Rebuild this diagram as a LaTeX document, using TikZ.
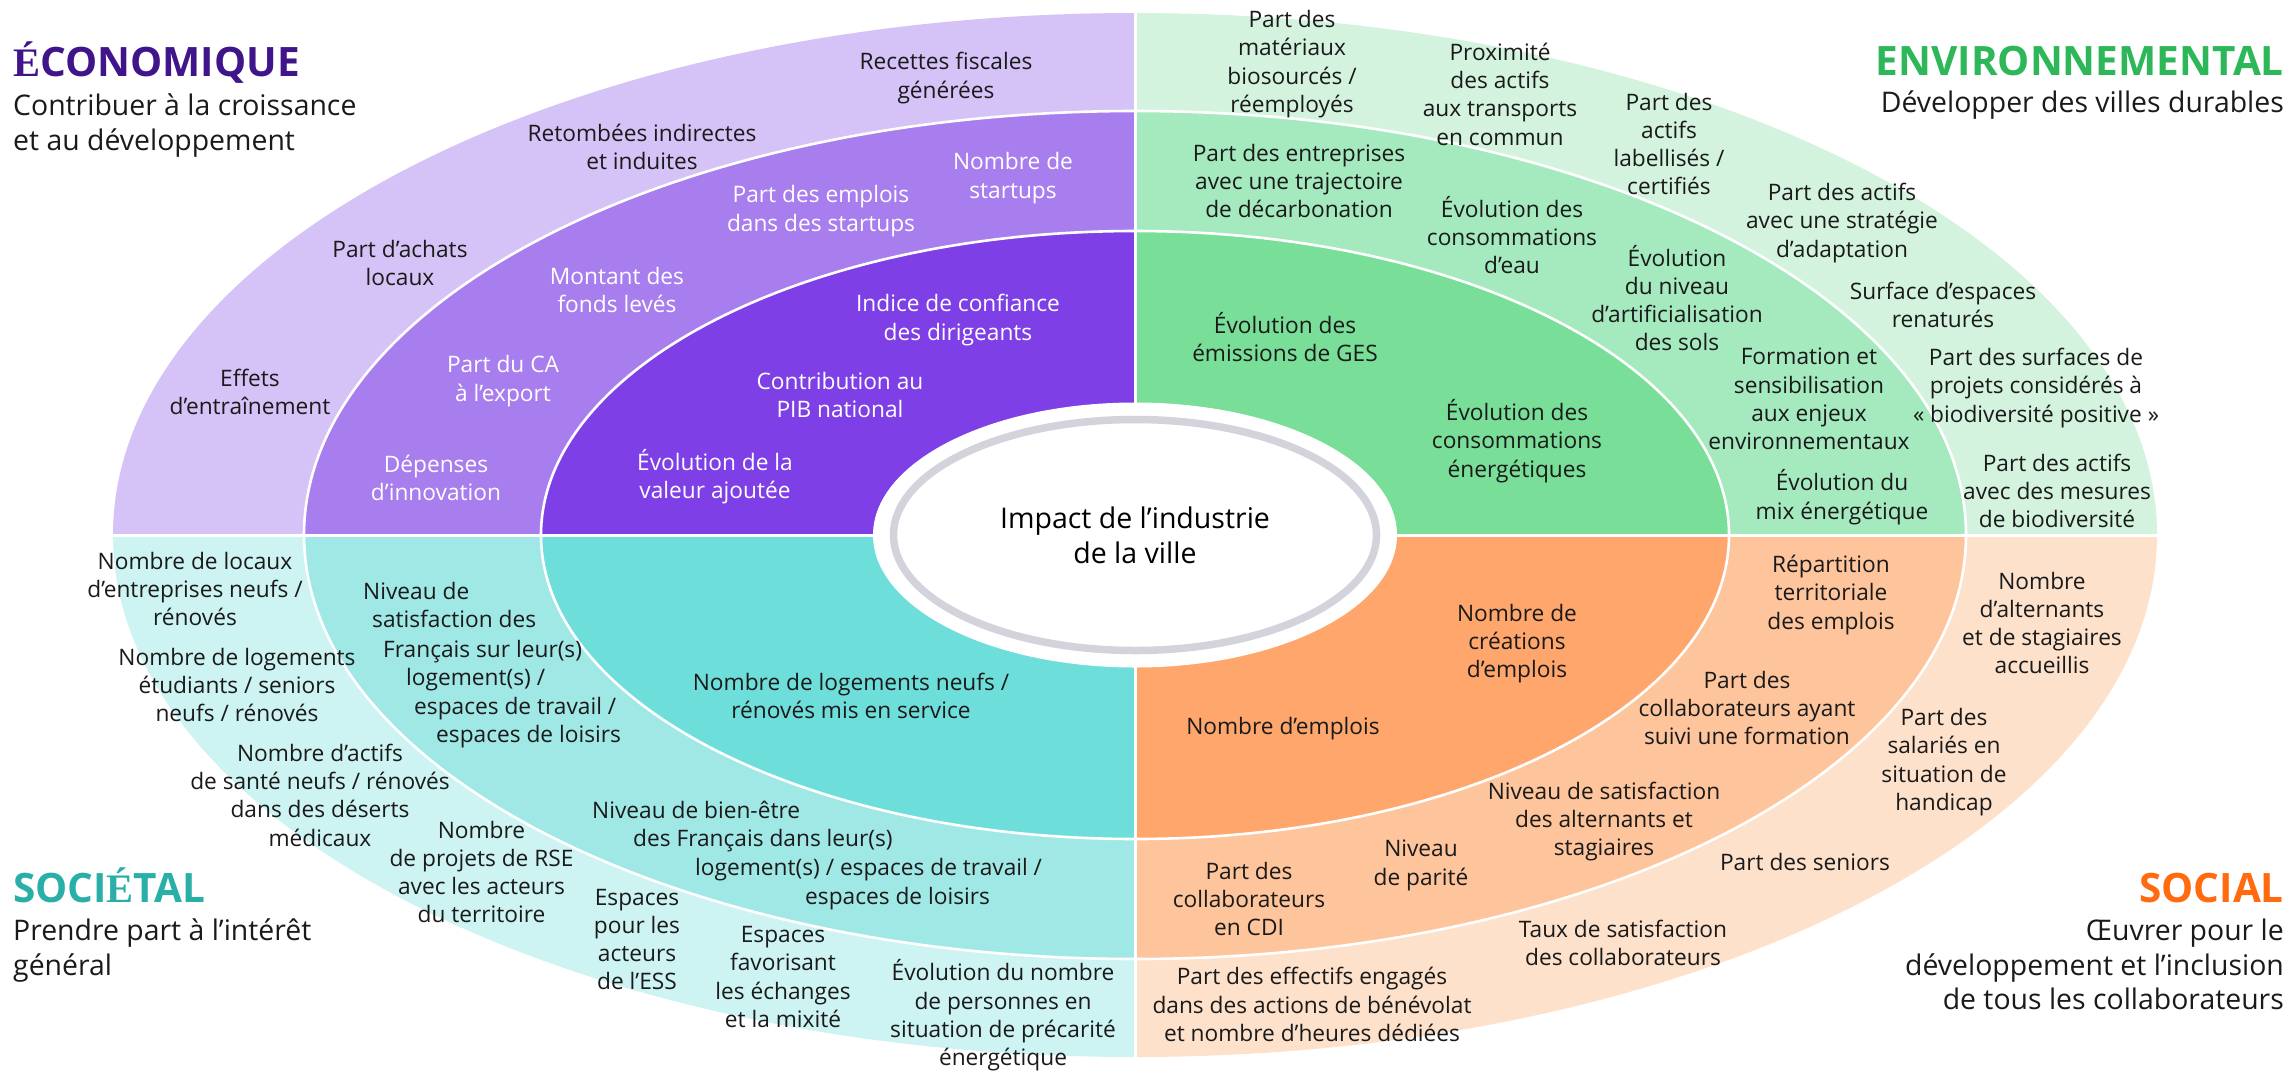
\documentclass[tikz,border=0pt]{standalone}
\usepackage{fontspec}
\setmainfont{Open Sans}
\newfontfamily\serifE{Liberation Serif}
\definecolor{econO}{HTML}{D5C2F7}
\definecolor{econM}{HTML}{A87EEE}
\definecolor{econI}{HTML}{7E40E6}
\definecolor{envO}{HTML}{D3F3DE}
\definecolor{envM}{HTML}{A5E9BF}
\definecolor{envI}{HTML}{78DE98}
\definecolor{socO}{HTML}{CDF3F2}
\definecolor{socM}{HTML}{A0E8E6}
\definecolor{socI}{HTML}{6EDEDB}
\definecolor{solO}{HTML}{FDE1CB}
\definecolor{solM}{HTML}{FEC49B}
\definecolor{solI}{HTML}{FEA66B}
\definecolor{ringgray}{HTML}{D3D3DB}
\definecolor{econT}{HTML}{40148A}
\definecolor{envT}{HTML}{2DB758}
\definecolor{socT}{HTML}{2AAFA8}
\definecolor{solT}{HTML}{FF6B0E}
\definecolor{txt}{HTML}{1A1A1A}
\newcommand\labfont{\fontsize{22.7}{28.3}\selectfont}
\begin{document}
\begin{tikzpicture}[x=1pt,y=-1pt,
  lab/.style={align=center,inner sep=0pt,font=\labfont,text=txt},
  wlab/.style={lab,text=white},
  lline/.style={anchor=base west,inner sep=0pt,font=\labfont,text=txt},
  ttl/.style={inner sep=0pt,font=\fontsize{40.5}{41}\selectfont\bfseries},
  sub/.style={inner sep=0pt,font=\fontsize{28.4}{34}\selectfont,text=txt},
  sep/.style={white,line width=2.6pt}]
\useasboundingbox (0,0) rectangle (2288,1071);
\coordinate (c) at (1135,535);
% quadrants
\begin{scope}\clip (0,0) rectangle (1135,535);
 \fill[econO] (c) ellipse [x radius=1022pt,y radius=522pt];
 \fill[econM] (c) ellipse [x radius=831pt,y radius=424pt];
 \fill[econI] (c) ellipse [x radius=594pt,y radius=304pt];
\end{scope}
\begin{scope}\clip (1135,0) rectangle (2288,535);
 \fill[envO] (c) ellipse [x radius=1022pt,y radius=522pt];
 \fill[envM] (c) ellipse [x radius=831pt,y radius=424pt];
 \fill[envI] (c) ellipse [x radius=594pt,y radius=304pt];
\end{scope}
\begin{scope}\clip (0,535) rectangle (1135,1071);
 \fill[socO] (c) ellipse [x radius=1022pt,y radius=522pt];
 \fill[socM] (c) ellipse [x radius=831pt,y radius=424pt];
 \fill[socI] (c) ellipse [x radius=594pt,y radius=304pt];
\end{scope}
\begin{scope}\clip (1135,535) rectangle (2288,1071);
 \fill[solO] (c) ellipse [x radius=1022pt,y radius=522pt];
 \fill[solM] (c) ellipse [x radius=831pt,y radius=424pt];
 \fill[solI] (c) ellipse [x radius=594pt,y radius=304pt];
\end{scope}
\draw[sep] (c) ellipse [x radius=831pt,y radius=424pt];
\draw[sep] (c) ellipse [x radius=594pt,y radius=304pt];
\draw[white,line width=3pt] (1135,0) -- (1135,1071);
\draw[white,line width=3pt] (0,535) -- (2288,535);
\fill[white] (c) ellipse [x radius=262pt,y radius=132.5pt];
\draw[ringgray,line width=7.5pt] (c) ellipse [x radius=241.5pt,y radius=115.5pt];
\node[inner sep=0pt,anchor=base,font=\fontsize{28.5}{35}\selectfont,text=black] (ctr1) at (1135,528) {Impact de l’industrie};
\node[inner sep=0pt,anchor=base,font=\fontsize{28.5}{35}\selectfont,text=black] (ctr2) at (1135,563) {de la ville};
% titles
\node[ttl,anchor=base west,text=econT] (tEco) at (13,76.5) {{\serifE É}CONOMIQUE};
\node[sub,anchor=base west] (sEco1) at (13,115) {Contribuer à la croissance};
\node[sub,anchor=base west] (sEco2) at (13,150) {et au développement};
\node[ttl,anchor=base east,text=envT] (tEnv) at (2284,75) {ENVIRONNEMENTAL};
\node[sub,anchor=base east] (sEnv1) at (2284,112) {Développer des villes durables};
\node[ttl,anchor=base west,text=socT] (tSoc) at (13,902) {SOCI{\serifE É}TAL};
\node[sub,anchor=base west] (sSoc1) at (13,940) {Prendre part à l’intérêt};
\node[sub,anchor=base west] (sSoc2) at (13,975) {général};
\node[ttl,anchor=base east,text=solT] (tSol) at (2284,902.7) {SOCIAL};
\node[sub,anchor=base east] (sSol1) at (2284,940.6) {Œuvrer pour le};
\node[sub,anchor=base east] (sSol2) at (2284,975) {développement et l’inclusion};
\node[sub,anchor=base east] (sSol3) at (2284,1009.6) {de tous les collaborateurs};
% economique
\node[lab] (e1) at (946,78) {Recettes fiscales\\générées};
\node[lab] (e2) at (642,147) {Retombées indirectes\\et induites};
\node[lab] (e3) at (400,263) {Part d’achats\\locaux};
\node[lab] (e4) at (250,392) {Effets\\d’entraînement};
\node[wlab] (e5) at (1013,178) {Nombre de\\startups};
\node[wlab] (e6) at (821,211) {Part des emplois\\dans des startups};
\node[wlab] (e7) at (617,290) {Montant des\\fonds levés};
\node[wlab] (e8) at (503,381) {Part du CA\\à l’export};
\node[wlab] (e9) at (436,478) {Dépenses\\d’innovation};
\node[wlab] (e10) at (958,320) {Indice de confiance\\des dirigeants};
\node[wlab] (e11) at (840,395) {Contribution au\\PIB national};
\node[wlab] (e12) at (715,477) {Évolution de la\\valeur ajoutée};
% environnemental
\node[lab] (v1) at (1292,64) {Part des\\matériaux\\biosourcés /\\réemployés};
\node[lab] (v2) at (1500,94) {Proximité\\des actifs\\aux transports\\en commun};
\node[lab] (v3) at (1669,144) {Part des\\actifs\\labellisés /\\certifiés};
\node[lab] (v4) at (1842,223) {Part des actifs\\avec une stratégie\\d’adaptation};
\node[lab] (v5) at (1943,305) {Surface d’espaces\\renaturés};
\node[lab] (v6) at (2036,388) {Part des surfaces de\\projets considérés à\\« biodiversité positive »};
\node[lab] (v7) at (2057,491) {Part des actifs\\avec des mesures\\de biodiversité};
\node[lab] (v8) at (1299,181) {Part des entreprises\\avec une trajectoire\\de décarbonation};
\node[lab] (v9) at (1512,235) {Évolution des\\consommations\\d’eau};
\node[lab] (v10) at (1677,298) {Évolution\\du niveau\\d’artificialisation\\des sols};
\node[lab] (v11) at (1809,399) {Formation et\\sensibilisation\\aux enjeux\\environnementaux};
\node[lab] (v12) at (1842,497) {Évolution du\\mix énergétique};
\node[lab] (v13) at (1285,337) {Évolution des\\émissions de GES};
\node[lab] (v14) at (1517,441) {Évolution des\\consommations\\énergétiques};
% societal
\node[lab] (s1) at (195,589) {Nombre de locaux\\d’entreprises neufs /\\rénovés};
\node[lab] (s2) at (237,685) {Nombre de logements\\étudiants / seniors\\neufs / rénovés};
\node[lab] (s3) at (320,795) {Nombre d’actifs\\de santé neufs / rénovés\\dans des déserts\\médicaux};
\node[lab] (s4) at (481.5,872) {Nombre\\de projets de RSE\\avec les acteurs\\du territoire};
\node[lab] (s5) at (637,939.5) {Espaces\\pour les\\acteurs\\de l’ESS};
\node[lab] (s6) at (783,977) {Espaces\\favorisant\\les échanges\\et la mixité};
\node[lab] (s7) at (1003,1015.5) {Évolution du nombre\\de personnes en\\situation de précarité\\énergétique};
\node[lline] (s8a) at (363,599) {Niveau de};
\node[lline] (s8b) at (372,627.7) {satisfaction des};
\node[lline] (s8c) at (383,657) {Français sur leur(s)};
\node[lline] (s8d) at (406,685) {logement(s) /};
\node[lline] (s8e) at (414,714.6) {espaces de travail /};
\node[lline] (s8f) at (436,742) {espaces de loisirs};
\node[lline] (s9a) at (592,818) {Niveau de bien-être};
\node[lline] (s9b) at (633,846.8) {des Français dans leur(s)};
\node[lline] (s9c) at (695,875) {logement(s) / espaces de travail /};
\node[lline] (s9d) at (805,904.4) {espaces de loisirs};
\node[lab] (s10) at (851,696) {Nombre de logements neufs /\\rénovés mis en service};
% social
\node[lab] (o1) at (1517,643.5) {Nombre de\\créations\\d’emplois};
\node[lab] (o2) at (1283,729) {Nombre d’emplois};
\node[lab] (o3) at (1831,595) {Répartition\\territoriale\\des emplois};
\node[lab] (o4) at (1747,708) {Part des\\collaborateurs ayant\\suivi une formation};
\node[lab] (o5) at (1604,821.6) {Niveau de satisfaction\\des alternants et\\stagiaires};
\node[lab] (o6) at (1421,865.5) {Niveau\\de parité};
\node[lab] (o7) at (1249,899) {Part des\\collaborateurs\\en CDI};
\node[lab] (o8) at (2042,623) {Nombre\\d’alternants\\et de stagiaires\\accueillis};
\node[lab] (o9) at (1944,762) {Part des\\salariés en\\situation de\\handicap};
\node[lab] (o10) at (1805,862) {Part des seniors};
\node[lab] (o11) at (1623,943) {Taux de satisfaction\\des collaborateurs};
\node[lab] (o12) at (1312,1004.5) {Part des effectifs engagés\\dans des actions de bénévolat\\et nombre d’heures dédiées};
\end{tikzpicture}
\end{document}
